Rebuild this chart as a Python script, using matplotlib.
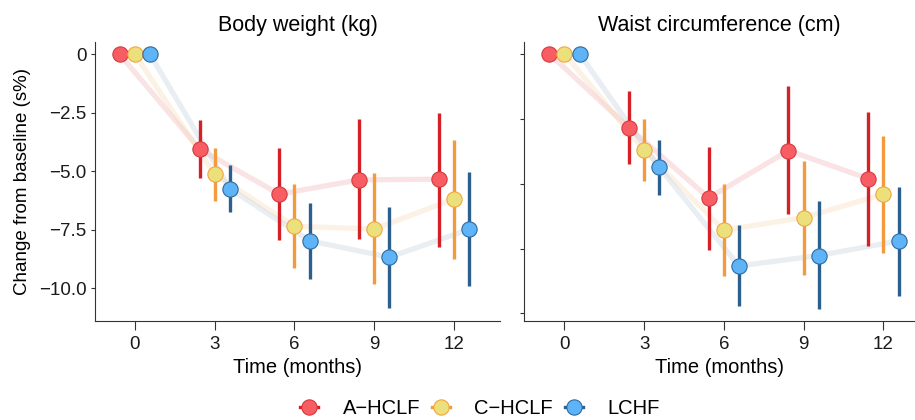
import matplotlib
matplotlib.use("Agg")
import matplotlib.pyplot as plt
from matplotlib.lines import Line2D
import numpy as np

plt.rcParams['font.family'] = ['Liberation Sans', 'DejaVu Sans']

months = [0, 3, 6, 9, 12]
groups = ["A\u2212HCLF", "C\u2212HCLF", "LCHF"]

# body weight (kg): mean, lower, upper per group
bw_mean = {
    "A\u2212HCLF": [0, -4.05, -5.98, -5.37, -5.34],
    "C\u2212HCLF": [0, -5.13, -7.36, -7.47, -6.19],
    "LCHF": [0, -5.75, -7.98, -8.68, -7.49],
}
bw_low = {
    "A\u2212HCLF": [0, -5.27, -7.95, -7.90, -8.24],
    "C\u2212HCLF": [0, -6.26, -9.16, -9.82, -8.74],
    "LCHF": [0, -6.75, -9.60, -10.87, -9.91],
}
bw_high = {
    "A\u2212HCLF": [0, -2.81, -4.02, -2.77, -2.50],
    "C\u2212HCLF": [0, -3.99, -5.55, -5.09, -3.66],
    "LCHF": [0, -4.73, -6.36, -6.53, -5.04],
}

# waist circumference (cm)
wc_mean = {
    "A\u2212HCLF": [0, -2.85, -5.55, -3.73, -4.81],
    "C\u2212HCLF": [0, -3.72, -6.79, -6.31, -5.41],
    "LCHF": [0, -4.38, -8.17, -7.77, -7.21],
}
wc_low = {
    "A\u2212HCLF": [0, -4.26, -7.54, -6.19, -7.41],
    "C\u2212HCLF": [0, -4.91, -8.56, -8.53, -7.69],
    "LCHF": [0, -5.45, -9.72, -9.81, -9.32],
}
wc_high = {
    "A\u2212HCLF": [0, -1.44, -3.60, -1.26, -2.24],
    "C\u2212HCLF": [0, -2.53, -5.00, -4.12, -3.17],
    "LCHF": [0, -3.33, -6.60, -5.68, -5.13],
}

bar_col = {"A\u2212HCLF": "#d42026", "C\u2212HCLF": "#f29a3c", "LCHF": "#2d5f8c"}
fill_col = {"A\u2212HCLF": "#f75d62", "C\u2212HCLF": "#ece07c", "LCHF": "#5eb4f6"}
edge_col = {"A\u2212HCLF": "#d43a3e", "C\u2212HCLF": "#f2a640", "LCHF": "#2d6aa0"}
line_col = {"A\u2212HCLF": "#eeb0b3", "C\u2212HCLF": "#f7d8b6", "LCHF": "#c2cfdf"}
offsets = {"A\u2212HCLF": -0.57, "C\u2212HCLF": 0.0, "LCHF": 0.57}

fig = plt.figure(figsize=(9.15, 4.2), dpi=100)
ax1 = fig.add_axes([95 / 915, 1 - 321 / 420, 405 / 915, 279 / 420])
ax2 = fig.add_axes([524 / 915, 1 - 321 / 420, 391 / 915, 279 / 420])


def draw(ax, mean, low, high):
    for g in groups:
        x = np.array(months) + offsets[g]
        ax.plot(x, mean[g], color=line_col[g], lw=3.8, alpha=0.35,
                solid_capstyle='butt', zorder=1)
    for g in groups:
        x = np.array(months) + offsets[g]
        ax.vlines(x[1:], low[g][1:], high[g][1:], color=bar_col[g], lw=2.4, zorder=2)
        ax.plot(x, mean[g], 'o', ms=11, mfc=fill_col[g], mec=edge_col[g],
                mew=0.8, ls='none', zorder=3)
    ax.set_xticks(months)
    ax.set_xlabel("Time (months)", fontsize=14.5, labelpad=4)
    for s in ['top', 'right']:
        ax.spines[s].set_visible(False)
    ax.spines['left'].set_color('#333333')
    ax.spines['bottom'].set_color('#333333')
    ax.tick_params(colors='#333333', labelcolor='#1a1a1a', labelsize=13.5,
                   length=3, pad=3)
    ax.tick_params(axis='x', length=6.5, pad=4)


draw(ax1, bw_mean, bw_low, bw_high)
ax1.set_xlim(-1.5, 13.73)
ax1.set_ylim(-11.41, 0.53)
ax1.set_yticks([0, -2.5, -5.0, -7.5, -10.0])
ax1.set_yticklabels(["0", "\u22122.5", "\u22125.0", "\u22127.5", "\u221210.0"])
ax1.set_ylabel("Change from baseline (s%)", fontsize=13.5, labelpad=6)
ax1.set_title("Body weight (kg)", fontsize=15.5, pad=8)

draw(ax2, wc_mean, wc_low, wc_high)
ax2.set_xlim(-1.52, 13.19)
ax2.set_ylim(-10.29, 0.45)
ax2.set_yticks([0, -2.5, -5.0, -7.5, -10.0])
ax2.set_yticklabels([])
ax2.set_title("Waist circumference (cm)", fontsize=15.5, pad=8)

handles = [Line2D([0], [0], color=bar_col[g], lw=2.4, marker='o', ms=11,
                  mfc=fill_col[g], mec=edge_col[g], mew=0.8) for g in groups]
fig.legend(handles, groups, loc='center', bbox_to_anchor=(480 / 915, 1 - 409 / 420),
           ncol=3, frameon=False, fontsize=14.5, handlelength=0.9,
           columnspacing=0.6, handletextpad=1.2)

fig.savefig("out.png", dpi=100)
